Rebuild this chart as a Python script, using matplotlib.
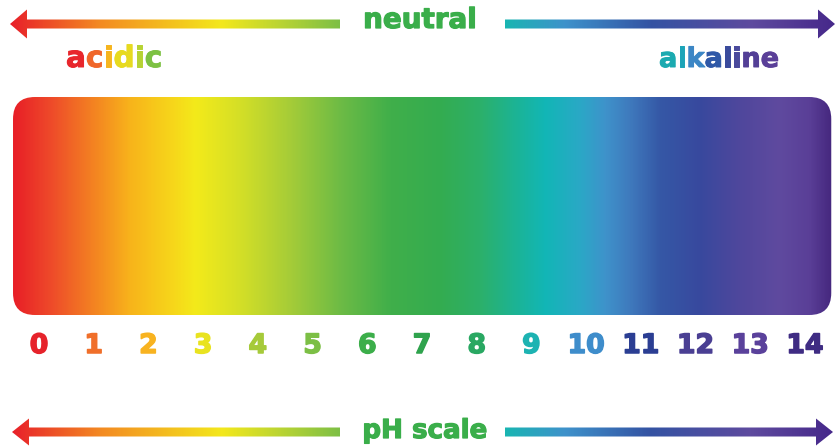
import numpy as np
import matplotlib
matplotlib.use("Agg")
import matplotlib.pyplot as plt
import matplotlib.patheffects as pe
from matplotlib.colors import LinearSegmentedColormap
from matplotlib.patches import FancyBboxPatch, FancyArrow
from matplotlib.font_manager import FontProperties, findfont
from matplotlib.ft2font import FT2Font

# ---------------- data ----------------
ph_values = list(range(15))
ph_labels = [str(v) for v in ph_values]
ph_label_colors = ["#E6232B", "#F06F2A", "#F8B320", "#E9E320", "#A6CA3A",
                   "#7CBF45", "#3CAE4A", "#2FA34D", "#29A862", "#1DB3B2",
                   "#3E8DCB", "#2B3E93", "#4A3F93", "#5A419B", "#3F2C83"]

# colour of the scale at given pH positions
gradient_ph = [-0.475, 0.20, 0.93, 1.66, 2.49, 2.85, 3.67, 4.59, 5.50, 6.42,
               7.33, 8.06, 8.79, 9.25, 9.89, 10.34, 10.80, 11.35, 12.08,
               12.81, 13.54, 14.09, 14.48]
gradient_colors = ["#E81F27", "#EE4A2A", "#F37F22", "#F8B41B", "#F6D91A",
                   "#F3EA1A", "#D4DF27", "#A5CC38", "#6DBB45", "#40AF4A",
                   "#34AC50", "#2CB06A", "#1AB49A", "#12B6B6", "#2AA8C6",
                   "#3E93CB", "#3F7ABD", "#3558A6", "#38499E", "#4F479C",
                   "#5F4A9F", "#5A3F97", "#46287F"]

# arrow colours, listed from left end to right end
acid_arrow_colors = ["#E8202A", "#F38A22", "#F3E81C", "#B9D433", "#7DBF45"]
acid_arrow_pos = [0.0, 0.27, 0.64, 0.82, 1.0]
base_arrow_colors = ["#19B5B2", "#3E92CB", "#3453A3", "#5E4A9E", "#46288A"]
base_arrow_pos = [0.0, 0.18, 0.44, 0.75, 1.0]

acidic_word = "acidic"
acidic_colors = ["#E8262C", "#F0672A", "#F6B51F", "#E7DA1F", "#B6D334", "#7DC143"]
alkaline_word = "alkaline"
alkaline_colors = ["#1BAAB0", "#1CA4B8", "#3B86C5", "#2F58A7", "#3A4B9C",
                   "#4A4A9C", "#533F96", "#5A3F98"]
title_top = "neutral"
title_bottom = "pH scale"
title_color = "#3AAE4A"

# ---------------- layout ----------------
W, H = 838, 446
PX0, PX_PER_PH = 39.0, 54.714   # pixel of pH 0, pixels per pH unit
FAMILY = "DejaVu Sans"
FP = FontProperties(family=FAMILY, weight="bold")


def heavy(color, lw=0.9):
    return [pe.withStroke(linewidth=lw, foreground=color)]


fig = plt.figure(figsize=(W / 100, H / 100), dpi=100)
fig.patch.set_facecolor("white")

# axes in pH units (x) and pixels from top (y)
ax = fig.add_axes([0, 0, 1, 1])
ax.set_xlim(-PX0 / PX_PER_PH, (W - PX0) / PX_PER_PH)
ax.set_ylim(H, 0)
ax.axis("off")

# decoration axes in pixel units
deco = fig.add_axes([0, 0, 1, 1], zorder=2)
deco.set_xlim(0, W)
deco.set_ylim(H, 0)
deco.axis("off")
deco.patch.set_alpha(0)

# ---- gradient bar ----
x0, x1 = gradient_ph[0], gradient_ph[-1]
bar_top, bar_bot = 97, 315
pos = [(p - x0) / (x1 - x0) for p in gradient_ph]
cmap = LinearSegmentedColormap.from_list("ph", list(zip(pos, gradient_colors)), N=512)
grad = np.linspace(0, 1, 1200)[None, :]
im = ax.imshow(grad, cmap=cmap, aspect="auto", extent=(x0, x1, bar_bot, bar_top),
               interpolation="bilinear")
radius_px = 22
box = FancyBboxPatch((x0, bar_top), x1 - x0, bar_bot - bar_top,
                     boxstyle=f"round,pad=0,rounding_size={radius_px / PX_PER_PH}",
                     mutation_aspect=PX_PER_PH, facecolor="none", edgecolor="none",
                     transform=ax.transData)
ax.add_patch(box)
im.set_clip_path(box)
ax.set_xlim(-PX0 / PX_PER_PH, (W - PX0) / PX_PER_PH)
ax.set_ylim(H, 0)

# ---- pH numbers ----
for v, lab, col in zip(ph_values, ph_labels, ph_label_colors):
    ax.text(v, 353, lab, ha="center", va="baseline", color=col,
            fontsize=19.2, fontfamily=FAMILY, fontweight="bold",
            path_effects=heavy(col, 1.1))


# ---- arrows ----
def gradient_arrow(tail, tip, y, colors, cpos, width, head_w, head_len):
    arr = FancyArrow(tail, y, tip - tail, 0, width=width, head_width=head_w,
                     head_length=head_len, length_includes_head=True,
                     facecolor="none", edgecolor="none")
    deco.add_patch(arr)
    cm = LinearSegmentedColormap.from_list("a", list(zip(cpos, colors)), N=256)
    lo, hi = min(tail, tip), max(tail, tip)
    g = np.linspace(0, 1, 600)[None, :]
    img = deco.imshow(g, cmap=cm, aspect="auto",
                      extent=(lo, hi, y + head_w / 2 + 1, y - head_w / 2 - 1),
                      interpolation="bilinear")
    img.set_clip_path(arr)


gradient_arrow(340, 10, 24, acid_arrow_colors, acid_arrow_pos, 9, 29, 17)
gradient_arrow(505, 835, 24, base_arrow_colors, base_arrow_pos, 9, 29, 17)
gradient_arrow(340, 12, 432, acid_arrow_colors, acid_arrow_pos, 9, 27, 17)
gradient_arrow(505, 833, 432, base_arrow_colors, base_arrow_pos, 9, 27, 17)
deco.set_xlim(0, W)
deco.set_ylim(H, 0)

# ---- titles ----
deco.text(420, 28, title_top, ha="center", va="baseline", color=title_color,
          fontsize=20, fontfamily=FAMILY, fontweight="bold",
          path_effects=heavy(title_color))
deco.text(425, 438, title_bottom, ha="center", va="baseline", color=title_color,
          fontsize=18.8, fontfamily=FAMILY, fontweight="bold",
          path_effects=heavy(title_color))


def multicolor(x, y, word, colors, size):
    ft = FT2Font(findfont(FP))
    ft.set_size(size, 72)
    cur = x
    for ch, col in zip(word, colors):
        adv = ft.load_char(ord(ch)).linearHoriAdvance / 65536 * 100 / 72
        deco.text(cur, y, ch, ha="left", va="baseline", color=col,
                  fontsize=size, fontfamily=FAMILY, fontweight="bold",
                  path_effects=heavy(col, 0.7))
        cur += adv


multicolor(66, 67, acidic_word, acidic_colors, 21.2)
multicolor(659, 67, alkaline_word, alkaline_colors, 19.5)

fig.savefig("out.png", dpi=100, facecolor="white")
